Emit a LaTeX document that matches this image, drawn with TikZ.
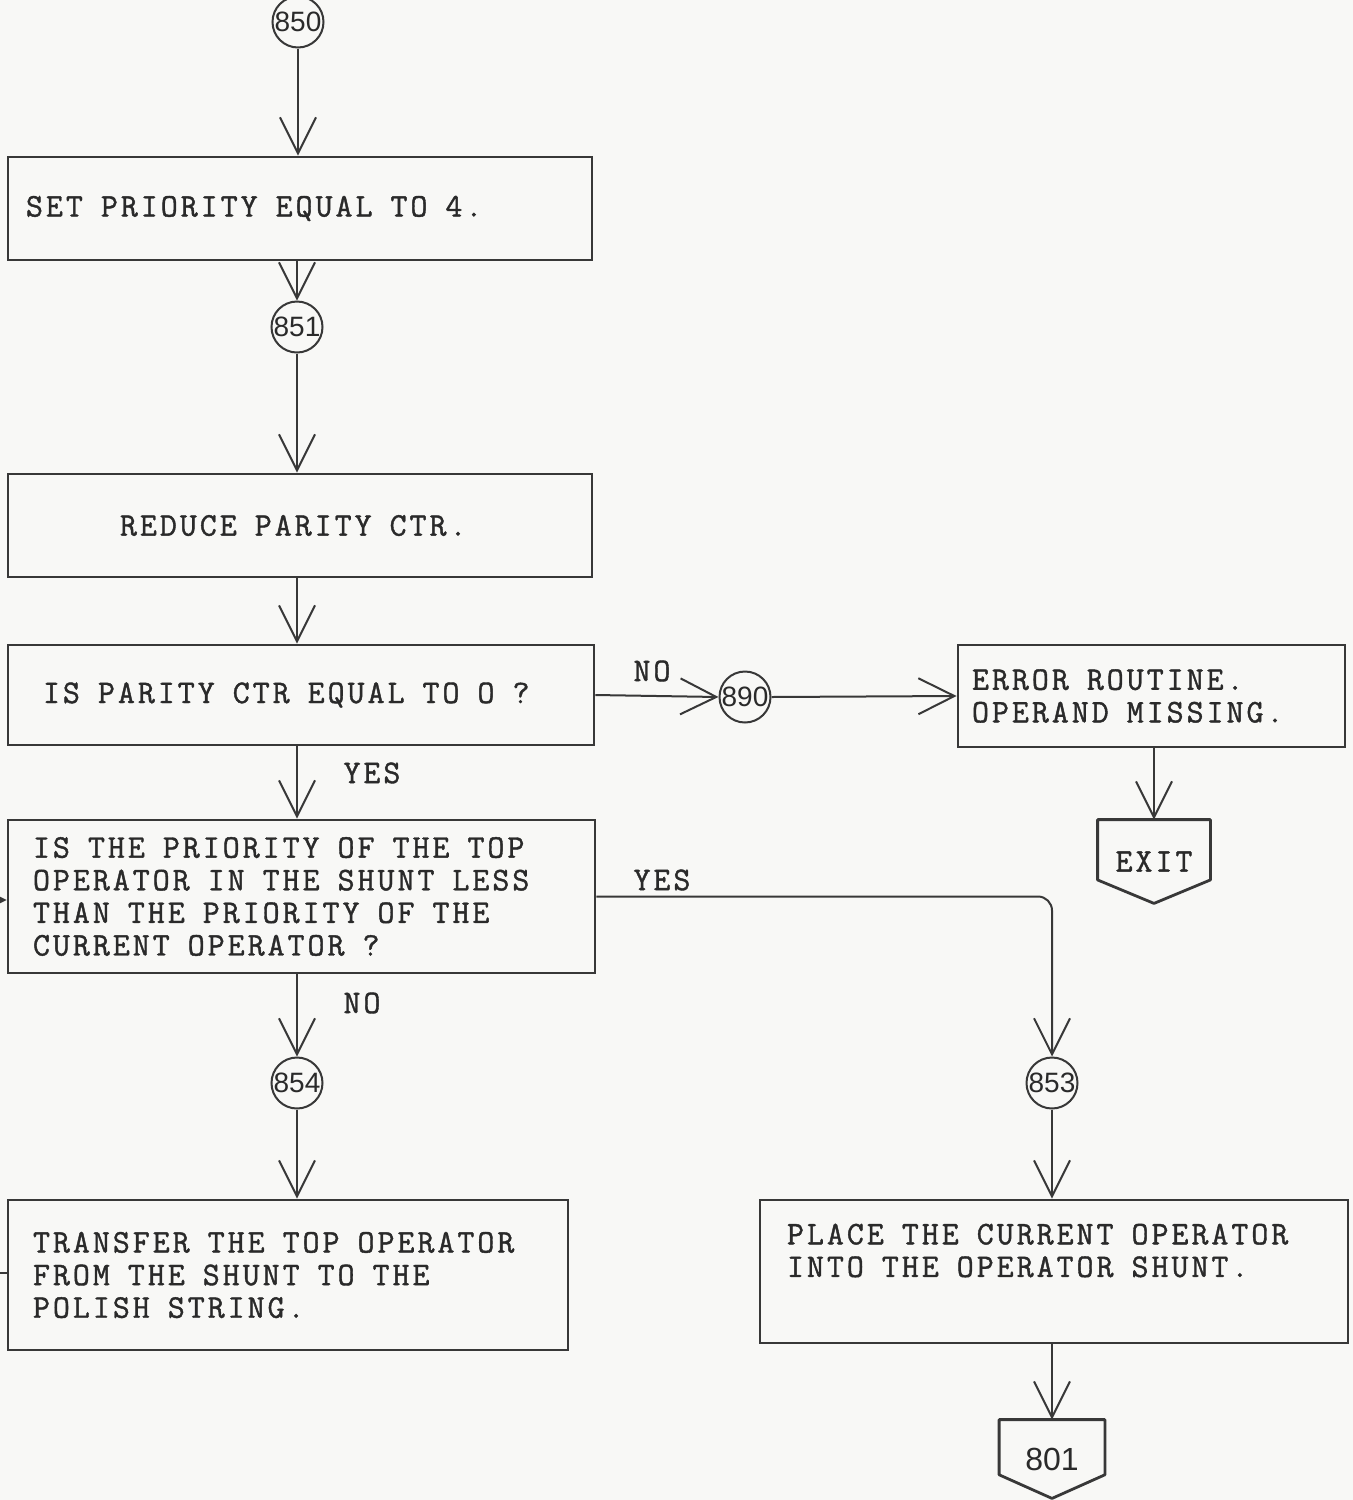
\documentclass[tikz,border=0pt]{standalone}
\usepackage{fontspec}
\newfontfamily\digitfont{Liberation Sans}
\newfontfamily\typewr{Latin Modern Mono}[FakeBold=1.2, LetterSpace=9]
\newcommand{\twfont}{\typewr\fontsize{16.5pt}{16.3pt}\selectfont}
\newcommand{\ws}{\hskip 9pt\relax}
\usetikzlibrary{arrows.meta,calc}
\definecolor{bgc}{HTML}{F8F8F6}
\definecolor{linec}{HTML}{383838}
\definecolor{textc}{HTML}{2A2A2A}
\tikzset{
  boxnode/.style={draw=linec, line width=1.4pt, rectangle, inner ysep=0pt, align=left,
    font=\twfont, text=textc},
  conn/.style={circle, draw=linec, line width=1pt, inner sep=0pt, minimum size=25.5pt,
    font=\digitfont\fontsize{14pt}{14pt}\selectfont, text=textc},
  flow/.style={draw=linec, line width=1pt, -{Straight Barb[length=18pt,width=18pt,line width=1pt]}},
  plain/.style={draw=linec, line width=1pt},
  lbl/.style={font=\twfont, text=textc},
  endnode/.style={rectangle, inner sep=0pt, text=textc}
}
\begin{document}
\begin{tikzpicture}[x=0.5pt,y=-0.5pt]
\useasboundingbox (0,0) rectangle (1353,1500);
\fill[bgc] (0,0) rectangle (1353,1500);

% connectors (circles)
\node[conn] (c850) at (298,22) {850};
\node[conn] (c851) at (297,327) {851};
\node[conn] (c890) at (745,697) {890};
\node[conn] (c854) at (297,1083) {854};
\node[conn] (c853) at (1052,1083) {853};

% boxes
\node[boxnode, inner xsep=9pt, text width=274pt, minimum height=51.5pt] (b1) at (300,208.5)
  {SET\ws PRIORITY\ws EQUAL\ws TO\ws 4.};
\node[boxnode, inner xsep=50pt, text width=192pt, minimum height=51.5pt] (b2) at (300,525.5)
  {\hspace*{6pt}REDUCE\ws PARITY\ws CTR.};
\node[boxnode, inner xsep=17.5pt, text width=258pt, minimum height=50pt] (b3) at (301,695)
  {IS\ws PARITY\ws CTR\ws EQUAL\ws TO\ws O\ws ?};
\node[boxnode, inner xsep=12.5pt, text width=268.5pt, minimum height=76.5pt] (b4) at (301.5,896.5)
  {IS\ws THE\ws PRIORITY\ws OF\ws THE\ws TOP\\OPERATOR\ws IN\ws THE\ws SHUNT\ws LESS\\THAN\ws THE\ws PRIORITY\ws OF\ws THE\\CURRENT\ws OPERATOR\ws ?};
\node[boxnode, inner xsep=12.5pt, text width=255pt, minimum height=75pt] (b5) at (288,1275)
  {TRANSFER\ws THE\ws TOP\ws OPERATOR\\FROM\ws THE\ws SHUNT\ws TO\ws THE\\POLISH\ws STRING.};
\node[boxnode, inner xsep=13.5pt, text width=267pt, minimum height=71.5pt] (b6) at (1054,1271.5)
  {PLACE\ws THE\ws CURRENT\ws OPERATOR\\INTO\ws THE\ws OPERATOR\ws SHUNT.\\ \strut};
\node[boxnode, inner xsep=7pt, text width=179.5pt, minimum height=51pt] (err) at (1151.5,696)
  {ERROR\ws ROUTINE.\\OPERAND\ws MISSING.};

% terminal shapes
\node[endnode, minimum width=56pt, minimum height=41.5pt, font=\twfont] (exit) at (1154,861.5) {EXIT};
\draw[linec, line width=1.4pt, line join=round] (exit.north west) -- (exit.north east)
  -- ($(exit.north east)!0.72!(exit.south east)$) -- (exit.south)
  -- ($(exit.north west)!0.72!(exit.south west)$) -- cycle;
\node[endnode, minimum width=52.5pt, minimum height=39pt, font=\digitfont\fontsize{16pt}{16pt}\selectfont] (e801) at (1052,1459) {801};
\draw[linec, line width=1.4pt, line join=round] (e801.north west) -- (e801.north east)
  -- ($(e801.north east)!0.7!(e801.south east)$) -- (e801.south)
  -- ($(e801.north west)!0.7!(e801.south west)$) -- cycle;

% flow lines
\draw[flow] (c850.south) -- (c850.south |- b1.north);
\draw[flow] (c851.north |- b1.south) -- (c851.north);
\draw[flow] (c851.south) -- (c851.south |- b2.north);
\draw[flow] (c851.south |- b2.south) -- (c851.south |- b3.north);
\draw[flow] (b3.east) -- (c890.west);
\draw[flow] (c890.east) -- (err.west);
\draw[flow] (exit.north |- err.south) -- (exit.north);
\draw[flow] (c851.south |- b3.south) -- (c851.south |- b4.north);
\draw[flow, rounded corners=7pt] (b4.east) -| (c853.north);
\draw[flow] (c854.north |- b4.south) -- (c854.north);
\draw[flow] (c854.south) -- (c854.south |- b5.north);
\draw[flow] (c853.south) -- (c853.south |- b6.north);
\draw[flow] (e801.north |- b6.south) -- (e801.north);

% incoming loop ends from the left
\coordinate (in1) at (-40,900);
\draw[flow] (in1) -- (b4.west |- in1);
\coordinate (in2) at (-40,1273);
\draw[plain] (in2) -- (b5.west |- in2);

% labels
\node[lbl] (lno1) at (652,671) {NO};
\node[lbl] (lyes1) at (372,773) {YES};
\node[lbl] (lyes2) at (662,880) {YES};
\node[lbl] (lno2) at (362,1003) {NO};
\end{tikzpicture}
\end{document}
